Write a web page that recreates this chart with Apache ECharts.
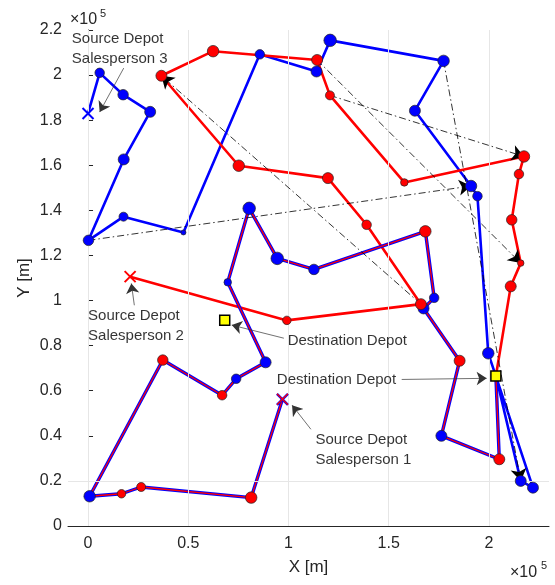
<!DOCTYPE html>
<html>
<head>
<meta charset="utf-8">
<script src="https://cdn.jsdelivr.net/npm/echarts@6/dist/echarts.min.js"></script>
<style>
html, body { margin: 0; padding: 0; background: #fff; }
#chart { width: 555px; height: 585px; }
</style>
</head>
<body>
<div id="chart"></div>
<script>
// axis ticks (metres)
var xTicks = [0, 50000, 100000, 150000, 200000];
var yGridAt = [20000];

// depots
var source1 = [97000, 56200];
var source2 = [21000, 110600];
var source3 = [0, 183000];
var destDepots = [[68200, 91300], [203500, 66500]];

// route nodes: [x, y, demand, marker owner 'r' | 'b']
var route1 = [
    [81400, 12600, 8, 'r'], [26500, 17300, 5.5, 'r'], [16700, 14300, 5, 'r'],
    [800, 13200, 8, 'b'], [37300, 73600, 7, 'r'], [66900, 58000, 6, 'r'],
    [73900, 65300, 6, 'b'], [88600, 72600, 7.5, 'b'], [69700, 108100, 4, 'b'],
    [80400, 140900, 9, 'b'], [94400, 118700, 9, 'b'], [112700, 113800, 7, 'b'],
    [168300, 130700, 8, 'r'], [172700, 101200, 6, 'b'], [167400, 96500, 7.5, 'b'],
    [185400, 73300, 7.5, 'r'], [176300, 40000, 7.5, 'b'], [205200, 29600, 7.5, 'r']
];
var route2 = [
    [99200, 91200, 5, 'r'], [166100, 98400, 7.5, 'r'], [139000, 133600, 6, 'r'],
    [119700, 154300, 7.5, 'r'], [75200, 159800, 8, 'r'], [36600, 199700, 7.5, 'r'],
    [62400, 210600, 8, 'r'], [114300, 206700, 7.5, 'r'], [120700, 191000, 5.5, 'r'],
    [157800, 152400, 4, 'r'], [217500, 163900, 8, 'r'], [215000, 156100, 6, 'r'],
    [211400, 135800, 7, 'r'], [215900, 116600, 3, 'r'], [210900, 106300, 7.5, 'r']
];
var route3 = [
    [5800, 201000, 6, 'b'], [17500, 191300, 7, 'b'], [31000, 183700, 7.5, 'b'],
    [17800, 162600, 7.5, 'b'], [200, 126700, 7, 'b'], [17700, 137200, 5.5, 'b'],
    [47600, 130200, 1.5, 'b'], [85700, 209200, 6, 'b'], [114000, 201600, 7.5, 'b'],
    [120800, 215400, 9, 'b'], [177400, 206300, 8, 'b'], [163100, 184200, 7.5, 'b'],
    [191100, 150800, 8, 'b'], [194300, 146300, 6, 'b'], [199700, 76600, 8, 'b'],
    [222000, 17000, 7.5, 'b'], [215900, 20000, 7.5, 'b']
];

// node transfers between salespersons (from -> to)
var transfers = [
    [[200, 126700], [191100, 150800]],
    [[166100, 98400], [36600, 199700]],
    [[114300, 206700], [215900, 116600]],
    [[120700, 191000], [217500, 163900]],
    [[177400, 206300], [215900, 20000]]
];

// text notes: label, text anchor, arrow tail, arrow head
var noteText = ['Source Depot\nSalesperson 3', 'Source Depot\nSalesperson 2', 'Destination Depot',
    'Destination Depot', 'Source Depot\nSalesperson 1'];
var noteAt = [[-8100, 211500], [0, 88600], [99600, 82200], [94200, 64700], [113500, 33700]];
var noteTail = [[17800, 203100], [23100, 97900], [97700, 83300], [156500, 65000], [111200, 42900]];
var noteHead = [[5800, 183600], [21600, 107600], [71700, 89100], [198900, 65500], [101800, 53600]];

var RED = '#ff0000', BLUE = '#0000ff';
var FONT = '"Liberation Sans", Arial, Helvetica, sans-serif';

function path(src, nodes, dest) {
    var p = [src]
    nodes.forEach(n => p.push([n[0], n[1]]))
    p.push(dest)
    return p
}

function lineSeries(data, color, width, z) {
    return {
        type: 'line',
        data: data,
        showSymbol: false,
        silent: true,
        z: z,
        lineStyle: { color: color, width: width }
    }
}

var path1 = path(source1, route1, destDepots[1]);
var path2 = path(source2, route2, destDepots[1]);
// salesperson 3 sweeps the two far nodes before ending at the depot
var path3 = path(source3, route3, destDepots[1]);

var nodeData = [];
[route1, route2, route3].forEach(r => {
    r.forEach(n => {
        nodeData.push({ value: [n[0], n[1], n[2]], itemStyle: { color: n[3] == 'r' ? RED : BLUE } })
    })
});

var gridLines = [];
xTicks.forEach(x => gridLines.push([{ coord: [x, 0] }, { coord: [x, 220000] }]));
yGridAt.forEach(y => gridLines.push([{ coord: [-10000, y] }, { coord: [230000, y] }]));

var crossSym = 'path://M0,0L10,10M10,0L0,10';
function crossSeries(pt, color, width, size, z) {
    return {
        type: 'scatter',
        data: [pt],
        symbol: crossSym,
        symbolSize: size,
        silent: true,
        z: z,
        itemStyle: { color: 'rgba(0,0,0,0)', borderColor: color, borderWidth: width, opacity: 1 }
    }
}

var myChart = echarts.init(document.getElementById('chart'));

var option = {
    animation: false,
    backgroundColor: '#fff',
    grid: { left: 68, right: 6, top: 30, bottom: 59 },
    xAxis: {
        type: 'value',
        min: -10000,
        max: 230000,
        name: 'X [m]',
        nameLocation: 'middle',
        nameGap: 33,
        nameTextStyle: { fontSize: 17, color: '#262626', fontFamily: FONT },
        axisLine: { lineStyle: { color: '#262626', width: 1 } },
        axisTick: { inside: true, length: 5, customValues: xTicks, lineStyle: { color: '#262626' } },
        axisLabel: {
            customValues: xTicks, fontSize: 16, color: '#262626', fontFamily: FONT, margin: 10,
            formatter: v => String(parseFloat((v / 1e5).toFixed(2)))
        },
        splitLine: { show: false }
    },
    yAxis: {
        type: 'value',
        min: 0,
        max: 220000,
        interval: 20000,
        name: 'Y [m]',
        nameLocation: 'middle',
        nameGap: 35,
        nameMoveOverlap: false,
        nameTextStyle: { fontSize: 17, color: '#262626', fontFamily: FONT },
        axisLine: { show: true, lineStyle: { color: '#262626', width: 1 } },
        axisTick: { show: true, inside: true, length: 5, lineStyle: { color: '#262626' } },
        axisLabel: {
            fontSize: 16, color: '#262626', fontFamily: FONT, margin: 6,
            formatter: v => String(parseFloat((v / 1e5).toFixed(2)))
        },
        splitLine: { show: false }
    },
    graphic: [
        { type: 'text', left: 70, top: 12, style: { text: '×10', fontSize: 16, fill: '#262626', fontFamily: FONT } },
        { type: 'text', left: 100, top: 8, style: { text: '5', fontSize: 11, fill: '#262626', fontFamily: FONT } },
        { type: 'text', left: 510, top: 565, style: { text: '×10', fontSize: 16, fill: '#262626', fontFamily: FONT } },
        { type: 'text', left: 541, top: 560, style: { text: '5', fontSize: 11, fill: '#262626', fontFamily: FONT } }
    ],
    series: [
        {
            type: 'scatter',
            data: [],
            silent: true,
            z: 0,
            markLine: {
                silent: true,
                symbol: 'none',
                label: { show: false },
                lineStyle: { color: '#e6e6e6', width: 1, type: 'solid' },
                data: gridLines
            }
        },
        lineSeries(path3, BLUE, 2.6, 2),
        lineSeries(path2, RED, 2.6, 2),
        lineSeries(path1, BLUE, 3.4, 3),
        lineSeries(path1, RED, 1.3, 3),
        {
            type: 'lines',
            coordinateSystem: 'cartesian2d',
            silent: true,
            z: 5,
            symbol: ['none', 'arrow'],
            symbolSize: [9, 12],
            lineStyle: { color: '#000', width: 0.8, type: [7, 3, 1.5, 3], opacity: 1 },
            data: transfers.map(t => ({ coords: t }))
        },
        {
            type: 'scatter',
            data: nodeData,
            silent: true,
            z: 6,
            symbolSize: v => v[2] + 3.5,
            itemStyle: { borderColor: '#222', borderWidth: 0.7, opacity: 1 }
        },
        crossSeries(source3, BLUE, 2, 11, 7),
        crossSeries(source2, RED, 2, 11, 7),
        crossSeries(source1, BLUE, 2.6, 11, 7),
        crossSeries(source1, RED, 1.2, 11, 8),
        {
            type: 'scatter',
            data: destDepots,
            symbol: 'rect',
            symbolSize: 10,
            silent: true,
            z: 7,
            itemStyle: { color: '#ffff00', borderColor: '#000', borderWidth: 1.5, opacity: 1 }
        },
        {
            type: 'lines',
            coordinateSystem: 'cartesian2d',
            silent: true,
            z: 8,
            symbol: ['none', 'arrow'],
            symbolSize: [7, 10],
            lineStyle: { color: '#333', width: 0.7, type: 'solid', opacity: 1 },
            data: noteTail.map((t, i) => ({ coords: [t, noteHead[i]] }))
        },
        {
            type: 'scatter',
            symbolSize: 0,
            silent: true,
            z: 9,
            data: noteAt.map((p, i) => ({ value: p, name: noteText[i] })),
            label: {
                show: true,
                position: [0, 0],
                align: 'left',
                verticalAlign: 'middle',
                formatter: p => p.name,
                fontSize: 15,
                lineHeight: 20,
                color: '#000',
                fontFamily: FONT
            }
        }
    ]
};

myChart.setOption(option);
</script>
</body>
</html>
